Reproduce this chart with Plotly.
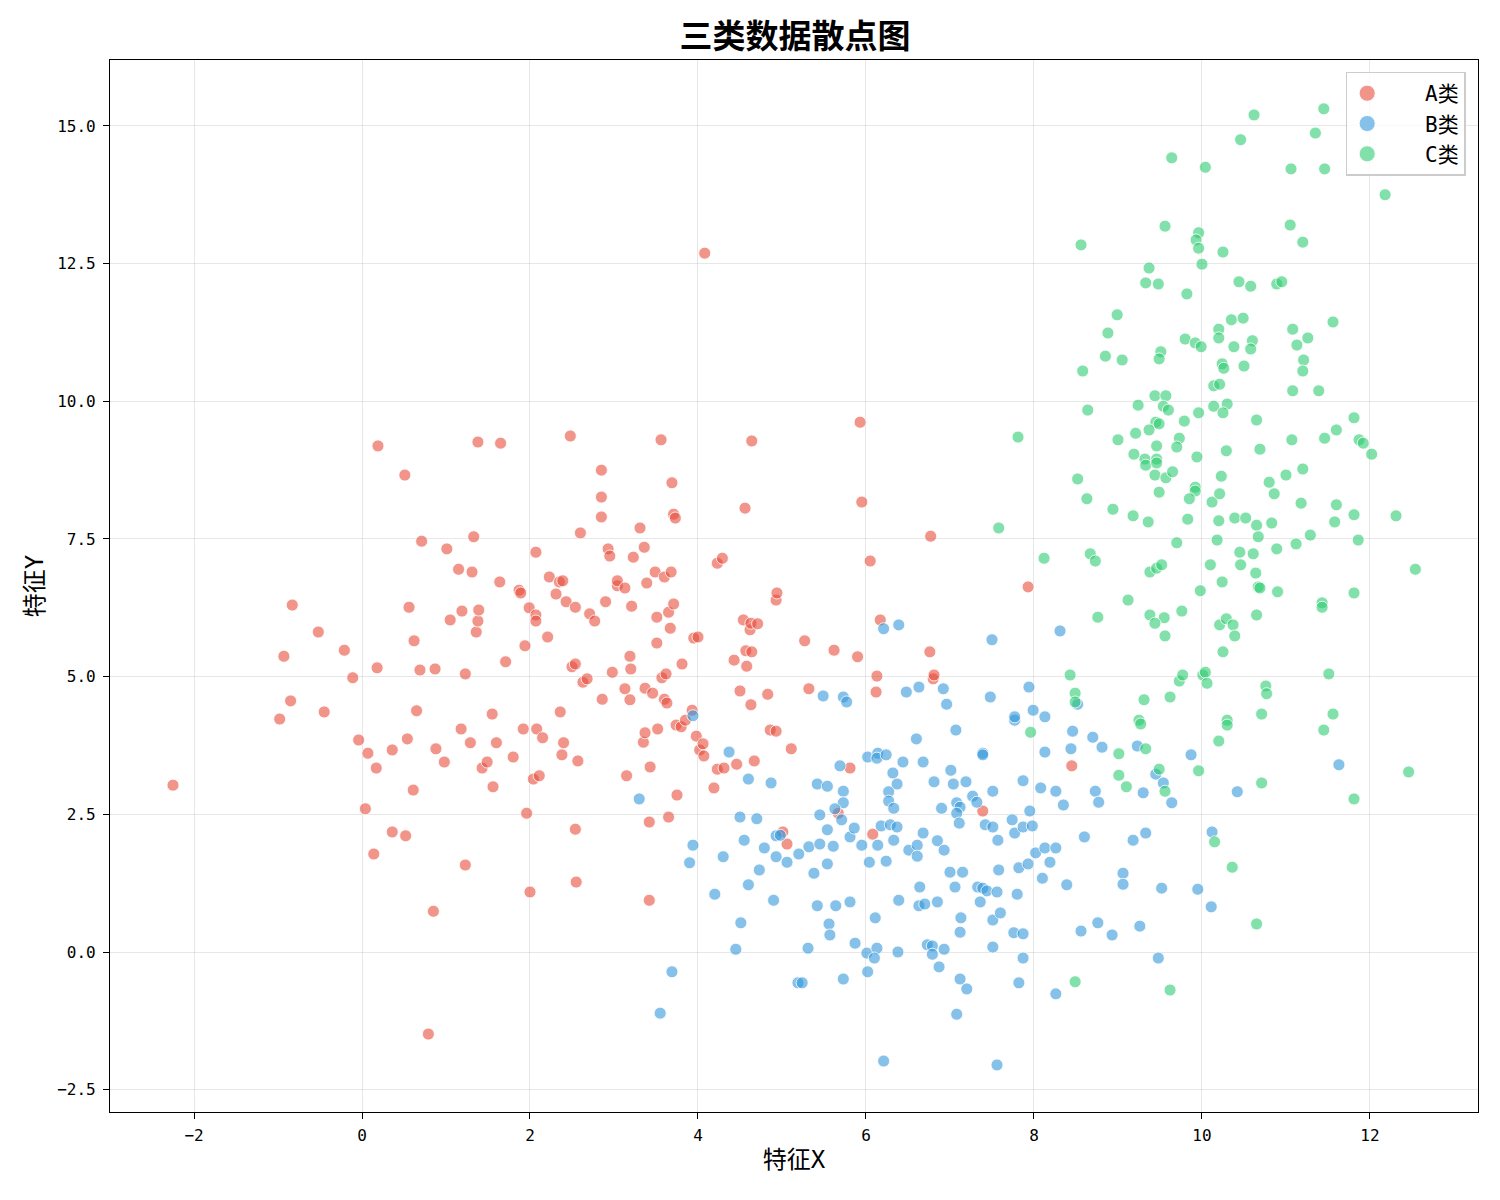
import plotly.graph_objects as go

# ---- data ----
a_x = [-2.25,-0.98,-0.93,-0.85,-0.83,-0.52,-0.45,-0.21,-0.11,-0.04,0.04,0.07,0.14,0.17,0.18,0.19,0.36,0.36,0.51,0.52,
       0.54,0.56,0.61,0.62,0.65,0.69,0.71,0.85,0.79,0.87,0.88,0.98,1.01,1.05,1.15,1.18,1.19,1.23,1.23,1.29,
       1.31,1.33,1.36,1.38,1.38,1.39,1.43,1.49,1.55,1.56,1.60,1.64,1.65,1.71,1.80,1.87,1.89,1.92,1.94,1.96,
       1.99,2.00,2.04,2.07,2.07,2.07,2.08,2.11,2.15,2.21,2.23,2.31,2.35,2.36,2.38,2.39,2.40,2.43,2.48,2.50,
       2.54,2.54,2.54,2.55,2.57,2.60,2.63,2.68,2.71,2.77,2.85,2.85,2.85,2.86,2.90,2.93,2.95,2.98,3.04,3.04,
       3.13,3.15,3.13,3.19,3.19,3.20,3.21,3.23,3.31,3.35,3.37,3.37,3.36,3.39,3.42,3.43,3.42,3.46,3.49,3.51,
       3.51,3.52,3.56,3.57,3.60,3.60,3.62,3.63,3.65,3.65,3.67,3.68,3.69,3.71,3.71,3.73,3.74,3.75,3.80,3.81,
       3.85,3.93,3.95,3.98,4.00,4.02,4.06,4.07,4.08,4.19,4.23,4.23,4.29,4.31,4.43,4.46,4.50,4.54,4.56,4.57,
       4.58,4.62,4.63,4.64,4.63,4.64,4.67,4.71,4.83,4.86,4.93,4.93,4.94,5.01,5.06,5.11,5.27,5.32,5.62,5.81,
       5.90,5.93,5.95,6.05,6.08,6.12,6.13,6.17,6.76,6.77,6.80,6.81,7.39,7.93,8.45,5.67]
a_y = [3.03,4.23,5.37,4.56,6.30,5.81,4.36,5.48,4.98,3.85,2.60,3.61,1.78,3.34,5.16,9.19,3.67,2.18,8.66,2.11,
       3.87,6.26,2.94,5.65,4.38,5.12,7.46,0.74,-1.49,5.14,3.69,3.45,7.32,6.03,6.95,4.05,6.19,5.05,1.58,3.80,
       6.90,7.54,5.81,6.01,9.26,6.21,3.34,3.45,4.32,3.00,3.80,6.72,9.24,5.27,3.54,6.57,6.52,4.05,5.56,2.52,
       6.25,1.09,3.14,7.26,6.12,6.01,4.05,3.20,3.89,5.72,6.81,6.50,6.72,4.36,3.58,6.74,3.80,6.36,9.37,5.18,
       6.26,5.23,2.23,1.27,3.47,7.61,4.90,4.96,6.14,6.01,8.75,8.26,7.90,4.59,6.36,7.32,7.19,5.08,6.65,6.74,
       6.61,3.20,4.78,4.58,5.37,5.14,6.28,7.17,7.70,3.81,4.79,3.98,7.35,6.70,2.36,3.36,0.94,4.70,6.90,5.61,
       6.08,4.05,9.30,4.98,6.81,4.59,5.05,4.52,6.17,2.45,5.88,6.90,8.52,6.32,7.95,7.88,4.12,2.85,4.09,5.23,
       4.21,4.39,5.70,3.92,5.72,3.67,3.78,3.56,12.69,2.98,7.06,3.32,7.15,3.34,5.30,3.41,4.74,6.03,8.06,5.47,
       5.19,5.85,5.97,9.28,4.49,5.45,3.47,5.96,4.68,4.03,4.01,6.39,6.52,2.18,1.96,3.69,5.65,4.78,5.48,3.34,
       5.36,9.62,8.17,7.10,2.14,4.72,5.01,6.03,5.45,7.55,4.96,5.03,2.56,6.63,3.38,2.52]

b_x = [3.94,4.37,4.60,3.30,4.50,4.55,3.94,3.90,4.30,4.60,4.20,4.51,4.45,3.69,3.55,4.87,4.70,4.93,4.79,4.93,
       5.06,4.73,4.90,5.20,5.32,5.45,5.61,5.54,5.38,5.42,5.54,5.69,5.73,5.73,5.63,5.45,5.54,5.71,5.81,5.86,
       5.95,6.14,6.04,6.24,6.18,6.29,6.37,6.33,6.02,6.14,6.13,6.24,6.44,6.68,6.60,7.07,6.32,6.37,6.27,6.27,
       6.33,6.68,6.85,6.93,6.51,6.61,6.61,6.81,7.01,7.04,7.19,6.90,7.08,7.12,7.08,7.11,7.27,7.32,7.39,7.39,
       7.51,7.42,7.51,7.57,7.74,7.77,7.87,7.98,7.87,7.95,8.08,8.13,7.77,7.58,7.82,7.93,8.02,8.13,8.10,7.00,
       7.15,7.06,7.33,7.39,7.44,7.56,7.36,7.80,6.64,6.63,6.70,6.85,6.39,6.11,5.81,5.64,5.42,5.56,5.57,5.31,
       5.87,6.01,6.13,6.10,6.02,6.38,6.73,6.79,6.79,6.93,6.87,7.13,7.12,7.51,7.60,7.76,7.87,7.51,7.87,7.82,
       7.12,7.20,7.08,5.19,5.24,5.73,6.21,7.56,4.98,6.21,6.39,7.50,5.49,5.73,5.77,6.48,6.63,6.92,6.96,7.48,
       7.94,7.99,7.77,8.13,8.46,8.70,8.81,8.44,9.23,9.87,9.45,9.54,8.26,8.73,8.77,8.35,9.30,9.64,10.42,11.63,
       8.60,8.26,8.19,9.18,9.33,10.12,9.06,9.06,8.39,9.52,9.95,10.11,8.76,8.56,8.93,9.26,9.48,8.26,8.31,8.52]
b_y = [4.29,3.63,3.14,2.78,2.45,2.03,1.94,1.62,1.73,1.22,1.05,0.53,0.05,-0.36,-1.11,3.07,2.42,2.11,1.89,1.73,
       1.63,1.49,0.94,1.78,1.91,1.96,1.92,1.60,1.43,3.05,3.01,3.38,2.92,2.71,2.60,2.49,2.22,2.40,2.09,2.25,
       1.94,1.94,1.63,1.65,2.29,2.31,2.27,2.03,3.54,3.61,3.52,3.58,3.45,3.45,3.87,4.03,3.25,3.05,2.91,2.74,
       2.61,2.16,2.02,1.85,1.85,1.94,1.74,3.09,3.30,3.05,3.09,2.61,2.71,2.63,2.52,2.34,2.83,2.72,3.61,3.58,
       2.92,2.31,2.27,2.03,2.40,2.16,2.27,2.29,3.11,2.56,2.98,3.63,4.21,1.49,1.53,1.60,1.80,1.89,1.34,1.45,
       1.45,1.18,1.18,1.16,1.11,1.09,0.91,1.05,1.18,0.84,0.87,0.91,0.94,0.62,0.91,0.84,0.84,0.51,0.31,0.07,
       0.16,-0.02,0.07,-0.11,-0.36,0.00,0.13,0.11,-0.04,0.05,-0.27,0.62,0.36,0.58,0.71,0.35,0.33,0.09,-0.11,-0.56,
       -0.49,-0.67,-1.13,-0.56,-0.56,-0.49,-1.98,-2.05,2.12,5.87,5.94,5.67,4.65,4.63,4.54,4.72,4.81,4.78,4.50,4.63,
       4.81,4.39,4.27,4.27,4.01,3.90,3.72,3.69,3.74,3.58,3.23,3.07,2.92,2.92,2.72,2.67,2.89,2.71,2.91,3.40,
       2.09,1.89,1.63,2.03,2.16,2.18,1.43,1.23,1.22,1.16,1.14,0.82,0.53,0.38,0.31,0.47,-0.11,-0.76,5.83,4.50]

c_x = [10.62,11.45,11.35,10.46,9.64,10.04,11.06,11.46,12.18,9.56,9.96,9.93,9.96,10.25,11.05,11.20,8.56,10.00,9.37,9.33,
       9.48,10.44,10.58,10.89,10.95,9.82,8.99,8.88,8.85,9.05,8.58,9.51,9.49,9.80,9.92,9.99,10.20,10.35,10.49,10.20,
       10.38,10.60,10.58,11.08,11.26,11.13,11.56,11.21,11.20,10.24,10.26,10.50,10.14,10.21,11.08,11.39,8.64,9.24,9.44,9.57,
       9.54,9.60,9.96,10.14,10.30,10.25,9.79,10.65,11.81,11.60,9.45,9.49,9.37,9.21,9.73,11.07,11.46,11.87,9.00,9.46,
       9.70,9.19,9.32,9.33,9.46,9.46,9.94,10.29,10.69,12.02,11.92,8.52,8.63,8.94,9.18,9.36,9.44,9.57,9.65,9.49,
       9.92,9.92,9.85,10.12,10.21,10.23,9.83,10.20,10.39,10.52,10.65,10.67,10.83,10.80,10.86,11.00,11.20,11.18,11.60,11.58,
       11.81,12.31,11.86,11.29,11.12,10.89,10.18,9.70,10.45,10.61,10.46,10.10,10.64,10.67,10.69,10.90,10.24,9.98,8.67,8.73,
       9.38,9.46,9.52,9.12,8.76,9.38,9.55,9.44,9.56,9.76,10.21,10.29,10.37,10.39,10.25,10.65,11.43,11.43,11.81,12.54,
       11.51,8.43,8.49,8.49,9.31,9.62,9.73,9.77,10.01,10.04,10.06,10.76,10.77,10.71,11.56,8.12,9.25,10.30,9.27,10.30,
       10.20,11.45,9.01,9.33,9.49,9.01,9.10,9.56,9.96,10.71,11.81,12.46,10.15,10.36,10.65,8.49,9.62,7.81,7.58,7.96]
c_y = [15.20,15.31,14.87,14.75,14.42,14.25,14.22,14.22,13.75,13.18,13.06,12.93,12.78,12.71,13.20,12.89,12.84,12.49,12.42,12.15,
       12.13,12.17,12.09,12.13,12.17,11.95,11.57,11.24,10.82,10.75,10.55,10.90,10.77,11.13,11.06,10.99,11.31,11.48,11.51,11.15,
       10.99,11.10,10.95,11.31,11.15,11.02,11.44,10.75,10.55,10.68,10.60,10.64,10.28,10.31,10.19,10.19,9.84,9.93,10.10,10.10,
       9.91,9.84,9.79,9.91,9.95,9.79,9.64,9.66,9.70,9.48,9.62,9.59,9.48,9.42,9.33,9.30,9.33,9.30,9.30,9.19,
       9.17,9.04,8.95,8.84,8.95,8.88,8.99,9.10,9.13,9.04,9.24,8.59,8.23,8.04,7.92,7.81,8.66,8.61,8.72,8.35,
       8.44,8.37,8.23,8.17,8.32,8.64,7.86,7.83,7.88,7.88,7.75,7.54,7.79,8.53,8.32,8.66,8.77,8.15,8.12,7.81,
       7.94,7.92,7.48,7.57,7.41,7.32,7.48,7.43,7.26,7.23,7.03,7.03,6.88,6.63,6.61,6.54,6.72,6.56,7.23,7.10,
       6.90,6.97,7.03,6.39,6.08,6.12,6.07,5.97,5.74,6.19,5.94,6.05,5.94,5.74,5.45,6.12,6.34,6.26,6.52,6.95,
       5.05,5.03,4.70,4.54,4.58,4.63,4.92,5.03,5.03,5.08,4.88,4.83,4.69,4.32,4.32,7.15,4.21,4.21,4.14,4.12,
       3.83,4.03,3.60,3.69,3.32,3.21,3.00,2.92,3.29,3.07,2.78,3.27,2.00,1.54,0.51,-0.54,-0.69,9.35,7.70,3.99]

names = ["A类", "B类", "C类"]
colors = ["rgba(231,76,60,0.6)", "rgba(52,152,219,0.6)", "rgba(46,204,113,0.6)"]
x_ticks = [-2, 0, 2, 4, 6, 8, 10, 12]
y_ticks = [-2.5, 0.0, 2.5, 5.0, 7.5, 10.0, 12.5, 15.0]

FONT = "DejaVu Sans Mono, Noto Sans CJK SC"
CJK = "Noto Sans CJK SC"

fig = go.Figure()
for nm, col, xs, ys in zip(names, colors, [a_x, b_x, c_x], [a_y, b_y, c_y]):
    fig.add_trace(go.Scatter(
        x=xs, y=ys, mode="markers", name=nm, legendgroup=nm, showlegend=False,
        marker=dict(size=12, color=col, line=dict(color="white", width=0.8)),
    ))
# legend-only entries with larger symbols (as in the reference legend)
for nm, col in zip(names, colors):
    fig.add_trace(go.Scatter(
        x=[None], y=[None], mode="markers", name="   " + nm, legendgroup=nm, showlegend=True,
        marker=dict(size=16, color=col, line=dict(color="white", width=0.8)),
    ))

fig.update_layout(
    width=1500, height=1200,
    paper_bgcolor="white", plot_bgcolor="white",
    margin=dict(l=110, r=22, t=60, b=88),
    font=dict(family=FONT, color="black", size=16),
    title=dict(text="三类数据散点图", x=0.53, xanchor="center", y=0.97, yanchor="middle",
               font=dict(family=CJK, size=33, color="black", weight="bold")),
    legend=dict(x=0.991, y=0.989, xanchor="right", yanchor="top",
                bgcolor="rgba(255,255,255,0.8)", bordercolor="#cccccc", borderwidth=1.5,
                font=dict(family=FONT, size=21), itemsizing="trace", tracegroupgap=0),
)
fig.update_xaxes(
    range=[-3.0, 13.286], tickvals=x_ticks, ticktext=[str(v).replace("-", "−") for v in x_ticks],
    showgrid=True, gridcolor="rgba(176,176,176,0.3)", gridwidth=1, zeroline=False,
    showline=True, linecolor="black", linewidth=1.2, mirror=True,
    ticks="outside", ticklen=6, tickcolor="black", tickfont=dict(size=16, family=FONT),
    ticklabelstandoff=3,
    title=dict(text="特征X", font=dict(size=24, family=FONT), standoff=6),
)
fig.update_yaxes(
    range=[-2.905, 16.197], tickvals=y_ticks, ticktext=[f"{v:.1f}".replace("-", "−") for v in y_ticks],
    showgrid=True, gridcolor="rgba(176,176,176,0.3)", gridwidth=1, zeroline=False,
    showline=True, linecolor="black", linewidth=1.2, mirror=True,
    ticks="outside", ticklen=6, tickcolor="black", tickfont=dict(size=16, family=FONT),
    ticklabelstandoff=4,
    title=dict(text="特征Y", font=dict(size=24, family=FONT), standoff=6),
)

fig.write_html("out.html")
